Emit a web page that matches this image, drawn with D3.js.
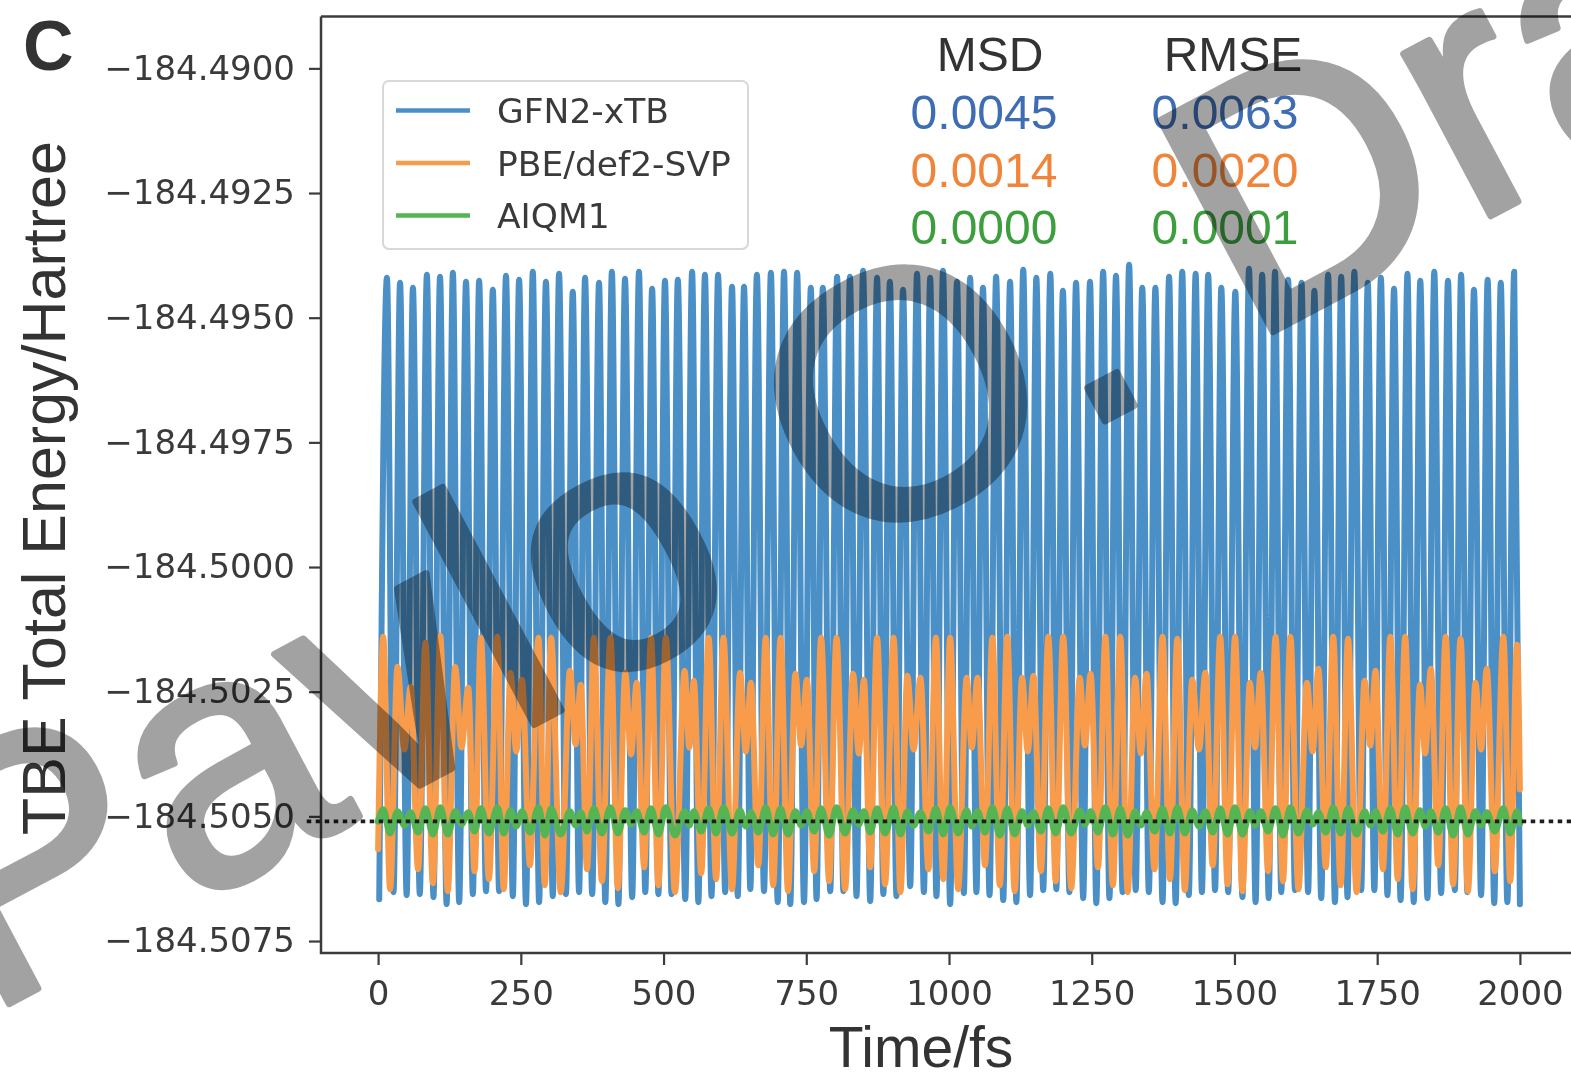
<!DOCTYPE html>
<html><head><meta charset="utf-8">
<script src="https://cdn.jsdelivr.net/npm/d3@7"></script>
<style>
html,body{margin:0;padding:0;background:#fff;}
svg{display:block;}
</style></head>
<body>
<svg id="chart" width="1571" height="1081"></svg>
<script>
// ---------------- DATA ----------------
const seriesNames = ["GFN2-xTB", "PBE/def2-SVP", "AIQM1"];
const msdValues  = ["0.0045", "0.0014", "0.0000"];
const rmseValues = ["0.0063", "0.0020", "0.0001"];
const xTicks = [0, 250, 500, 750, 1000, 1250, 1500, 1750, 2000];
const yTicks = [-184.4900, -184.4925, -184.4950, -184.4975, -184.5000, -184.5025, -184.5050, -184.5075];
const referenceEnergy = -184.5051;

// GFN2-xTB: local maxima / minima of the oscillation (time in fs, energy in Hartree)
const gfnPeakTime = [15.5,38.5,61,85.5,108.5,131,154,177,201,224,247,271,294,317,341,362.5,387,409.5,432.5,457,480,502.5,525,550,572.5,595.5,620,641,663.5,688,711,734,758,779,804,826.5,849.5,874,896.5,919.5,944,967,989.5,1014,1037,1059.5,1082.5,1107,1130,1153,1177.5,1199.5,1222.5,1247,1270,1292.5,1315.5,1338.5,1361.5,1385.5,1408.5,1432,1454,1477,1501.5,1525.5,1548.5,1571,1594,1617.5,1640,1664,1687,1710,1733.5,1756.5,1779.5,1803,1825.5,1850,1874,1897,1919.5,1943.5,1966.5,1990];
const gfnPeakEnergy = [-184.49420,-184.49430,-184.49440,-184.49414,-184.49418,-184.49410,-184.49428,-184.49426,-184.49444,-184.49416,
-184.49424,-184.49408,-184.49428,-184.49412,-184.49448,-184.49420,-184.49430,-184.49408,-184.49422,-184.49408,
-184.49442,-184.49426,-184.49424,-184.49408,-184.49414,-184.49414,-184.49438,-184.49438,-184.49414,-184.49410,
-184.49408,-184.49410,-184.49440,-184.49440,-184.49418,-184.49418,-184.49406,-184.49420,-184.49428,-184.49444,
-184.49412,-184.49420,-184.49406,-184.49428,-184.49420,-184.49440,-184.49418,-184.49428,-184.49404,-184.49420,
-184.49412,-184.49446,-184.49430,-184.49428,-184.49408,-184.49416,-184.49394,-184.49440,-184.49440,-184.49418,
-184.49408,-184.49412,-184.49414,-184.49440,-184.49448,-184.49402,-184.49414,-184.49408,-184.49424,-184.49430,
-184.49446,-184.49414,-184.49418,-184.49408,-184.49430,-184.49420,-184.49442,-184.49412,-184.49426,-184.49408,
-184.49426,-184.49414,-184.49444,-184.49424,-184.49430,-184.49408];
const gfnTroughTime = [2,27,50,73,97,120,142,166,189,212,236,259,282,306,329,352,375,398,421,445,468,491,514,538,561,584,608,630,652,676,700,722,746,768,792,815,838,862,885,908,932,956,978,1002,1026,1048,1071,1095,1118,1142,1165,1188,1211,1235,1258,1281,1304,1327,1350,1374,1397,1420,1443,1466,1489,1514,1537,1560,1582,1606,1629,1652,1676,1698,1722,1745,1768,1791,1814,1838,1862,1886,1908,1932,1955,1978,2000];
const gfnTroughEnergy = [-184.50666,-184.50652,-184.50658,-184.50656,-184.50662,-184.50676,-184.50672,-184.50656,-184.50650,-184.50650,
-184.50660,-184.50676,-184.50672,-184.50660,-184.50656,-184.50652,-184.50656,-184.50672,-184.50676,-184.50662,
-184.50652,-184.50656,-184.50656,-184.50666,-184.50672,-184.50660,-184.50652,-184.50660,-184.50646,-184.50650,
-184.50672,-184.50676,-184.50672,-184.50666,-184.50650,-184.50650,-184.50660,-184.50670,-184.50656,-184.50660,
-184.50640,-184.50652,-184.50660,-184.50676,-184.50654,-184.50652,-184.50658,-184.50668,-184.50672,-184.50658,
-184.50648,-184.50646,-184.50652,-184.50664,-184.50674,-184.50664,-184.50652,-184.50648,-184.50652,-184.50672,
-184.50674,-184.50658,-184.50652,-184.50648,-184.50652,-184.50662,-184.50672,-184.50664,-184.50652,-184.50648,
-184.50652,-184.50664,-184.50672,-184.50662,-184.50648,-184.50648,-184.50658,-184.50668,-184.50672,-184.50664,
-184.50654,-184.50648,-184.50652,-184.50658,-184.50674,-184.50672,-184.50676];

// PBE/def2-SVP
const pbePeakTime = [9,34,57,83,109,135,158,180,209,232,252,281,303,336,355,378,407,433,453,478,504,537,553,579,605,634,653,679,705,731,751,776,803,832,851,874,903,927,950,977,1002,1031,1050,1076,1102,1128,1148,1174,1200,1229,1248,1274,1300,1326,1346,1374,1400,1426,1449,1475,1501,1527,1546,1572,1598,1627,1647,1673,1699,1728,1747,1773,1799,1825,1844,1870,1896,1922,1942,1971,1995];
const pbePeakEnergy = [-184.50140,-184.50200,-184.50240,-184.50152,-184.50138,-184.50200,-184.50242,-184.50142,-184.50140,-184.50212,
-184.50226,-184.50142,-184.50142,-184.50208,-184.50236,-184.50142,-184.50142,-184.50212,-184.50232,-184.50142,
-184.50142,-184.50208,-184.50228,-184.50142,-184.50142,-184.50212,-184.50232,-184.50142,-184.50142,-184.50214,
-184.50226,-184.50142,-184.50142,-184.50214,-184.50226,-184.50142,-184.50142,-184.50218,-184.50222,-184.50142,
-184.50142,-184.50222,-184.50222,-184.50142,-184.50140,-184.50222,-184.50218,-184.50140,-184.50140,-184.50222,
-184.50214,-184.50140,-184.50140,-184.50222,-184.50214,-184.50140,-184.50144,-184.50226,-184.50212,-184.50140,
-184.50140,-184.50232,-184.50212,-184.50140,-184.50140,-184.50232,-184.50204,-184.50140,-184.50144,-184.50228,
-184.50208,-184.50140,-184.50140,-184.50236,-184.50204,-184.50140,-184.50144,-184.50232,-184.50204,-184.50140,
-184.50156];
const pbeTroughTime = [0,21,46,70,96,122,146,169,194,220,242,266,292,320,346,366,392,420,443,466,491,520,545,566,592,620,644,666,692,718,741,764,790,818,842,862,888,915,938,964,990,1016,1040,1063,1089,1115,1138,1161,1187,1214,1238,1261,1287,1313,1336,1360,1387,1413,1438,1462,1488,1514,1536,1559,1585,1612,1637,1660,1686,1714,1738,1760,1786,1812,1834,1857,1883,1909,1932,1956,1983,2000];
const pbeTroughEnergy = [-184.50566,
-184.50646,-184.50366,-184.50606,-184.50634, -184.50650,-184.50362,-184.50610,-184.50626,
-184.50646,-184.50370,-184.50598,-184.50638, -184.50652,-184.50356,-184.50606,-184.50630,
-184.50644,-184.50376,-184.50602,-184.50638, -184.50652,-184.50362,-184.50614,-184.50626,
-184.50646,-184.50370,-184.50598,-184.50638, -184.50650,-184.50358,-184.50610,-184.50630,
-184.50646,-184.50374,-184.50602,-184.50636, -184.50652,-184.50366,-184.50606,-184.50626,
-184.50646,-184.50362,-184.50598,-184.50638, -184.50650,-184.50370,-184.50610,-184.50630,
-184.50644,-184.50358,-184.50602,-184.50638, -184.50652,-184.50374,-184.50606,-184.50626,
-184.50648,-184.50366,-184.50598,-184.50636, -184.50650,-184.50362,-184.50610,-184.50630,
-184.50646,-184.50370,-184.50602,-184.50638, -184.50652,-184.50358,-184.50606,-184.50626,
-184.50646,-184.50374,-184.50598,-184.50636, -184.50650,-184.50366,-184.50610,-184.50630,
-184.50446];

// AIQM1 (sampled at the same turning points as PBE)
const aiqmPeakEnergy = [-184.50486,-184.50490,-184.50492,-184.50484,-184.50482,-184.50490,-184.50492,-184.50484,-184.50482,-184.50488,
-184.50490,-184.50482,-184.50484,-184.50490,-184.50492,-184.50484,-184.50482,-184.50488,-184.50490,-184.50484,
-184.50482,-184.50490,-184.50490,-184.50484,-184.50482,-184.50488,-184.50492,-184.50482,-184.50484,-184.50490,
-184.50490,-184.50484,-184.50482,-184.50488,-184.50490,-184.50484,-184.50482,-184.50490,-184.50492,-184.50484,
-184.50482,-184.50488,-184.50490,-184.50482,-184.50484,-184.50490,-184.50492,-184.50484,-184.50482,-184.50488,
-184.50490,-184.50482,-184.50484,-184.50490,-184.50492,-184.50484,-184.50482,-184.50488,-184.50490,-184.50484,
-184.50482,-184.50490,-184.50490,-184.50484,-184.50482,-184.50488,-184.50492,-184.50482,-184.50484,-184.50490,
-184.50490,-184.50484,-184.50482,-184.50488,-184.50490,-184.50484,-184.50482,-184.50490,-184.50492,-184.50484,
-184.50490];
const aiqmTroughEnergy = [-184.50510,
-184.50534,-184.50518,-184.50532,-184.50536, -184.50536,-184.50516,-184.50530,-184.50534,
-184.50534,-184.50520,-184.50532,-184.50538, -184.50536,-184.50518,-184.50530,-184.50534,
-184.50534,-184.50516,-184.50532,-184.50536, -184.50538,-184.50518,-184.50530,-184.50534,
-184.50534,-184.50520,-184.50532,-184.50536, -184.50536,-184.50518,-184.50530,-184.50538,
-184.50534,-184.50516,-184.50532,-184.50534, -184.50536,-184.50518,-184.50530,-184.50536,
-184.50534,-184.50520,-184.50532,-184.50538, -184.50536,-184.50518,-184.50530,-184.50534,
-184.50534,-184.50516,-184.50532,-184.50536, -184.50538,-184.50518,-184.50530,-184.50534,
-184.50534,-184.50520,-184.50532,-184.50536, -184.50536,-184.50518,-184.50530,-184.50538,
-184.50534,-184.50516,-184.50532,-184.50534, -184.50536,-184.50518,-184.50530,-184.50536,
-184.50534,-184.50520,-184.50532,-184.50538, -184.50536,-184.50518,-184.50530,-184.50534,
-184.50514];

const colors = ["#4a90c6", "#f89c4c", "#55b555"];
const textColors = ["#3f6db3", "#f0843a", "#3d9e3d"];

// ---------------- CHART ----------------
const svg = d3.select("#chart");
const plot = {left: 321, right: 1577, top: 16.5, bottom: 953};
const x = d3.scaleLinear().domain([-100, 2100]).range([plot.left, plot.right]);
const y = d3.scaleLinear().domain([-184.50774, -184.48896]).range([plot.bottom, plot.top]);

const axisColor = "#3c3c3c";
const tickFont = "'DejaVu Sans', sans-serif";
const labelFont = "'Liberation Sans', Arial, sans-serif";

function merge(pT, pE, tT, tE) {
  const pts = [];
  pT.forEach((t, i) => pts.push([t, pE[i]]));
  tT.forEach((t, i) => pts.push([t, tE[i]]));
  return pts.sort((a, b) => a[0] - b[0]);
}
const series = [
  merge(gfnPeakTime, gfnPeakEnergy, gfnTroughTime, gfnTroughEnergy),
  merge(pbePeakTime, pbePeakEnergy, pbeTroughTime, pbeTroughEnergy),
  merge(pbePeakTime, aiqmPeakEnergy, pbeTroughTime, aiqmTroughEnergy)
];
const widths = [6, 6, 6.5];

const line = d3.line().x(d => x(d[0])).y(d => y(d[1])).curve(d3.curveMonotoneX);

const gData = svg.append("g");
series.forEach((s, i) => {
  gData.append("path").datum(s).attr("d", line)
    .attr("fill", "none").attr("stroke", colors[i])
    .attr("stroke-width", widths[i])
    .attr("stroke-linejoin", "round").attr("stroke-linecap", "round");
});

// reference (dotted) line
svg.append("line")
  .attr("x1", x(-125)).attr("x2", x(2100))
  .attr("y1", y(referenceEnergy)).attr("y2", y(referenceEnergy))
  .attr("stroke", "#1e1e1e").attr("stroke-width", 3.8)
  .attr("stroke-dasharray", "4.5,4.5");

// spines
const spine = svg.append("g").attr("stroke", axisColor).attr("stroke-width", 2.5).attr("fill", "none");
spine.append("path").attr("d", `M${plot.left},${plot.top}V${plot.bottom}H${plot.right}`);
spine.append("path").attr("d", `M${plot.left},${plot.top}H${plot.right}`);

// axes
const yAxis = d3.axisLeft(y).tickValues(yTicks).tickFormat(d3.format(".4f"))
  .tickSize(12).tickPadding(14).tickSizeOuter(0);
const gy = svg.append("g").attr("transform", `translate(${plot.left},0)`).call(yAxis);
const xAxis = d3.axisBottom(x).tickValues(xTicks).tickFormat(d3.format("d"))
  .tickSize(12).tickPadding(16).tickSizeOuter(0);
const gx = svg.append("g").attr("transform", `translate(0,${plot.bottom})`).call(xAxis);
[gx, gy].forEach(g => {
  g.select(".domain").remove();
  g.selectAll(".tick line").attr("stroke", axisColor).attr("stroke-width", 2.2);
  g.selectAll(".tick text").attr("fill", "#3a3a3a").style("font-family", tickFont).style("font-size", "34px");
});

// axis labels
svg.append("text").attr("x", 921).attr("y", 1067).attr("text-anchor", "middle")
  .style("font-family", labelFont).style("font-size", "57px").attr("fill", "#333")
  .text("Time/fs");
svg.append("text").attr("transform", "translate(65,488) rotate(-90)").attr("text-anchor", "middle")
  .style("font-family", labelFont).style("font-size", "61px").attr("fill", "#333")
  .text("TBE Total Energy/Hartree");

// panel label
svg.append("text").attr("x", 23).attr("y", 70)
  .style("font-family", labelFont).style("font-size", "70px").style("font-weight", "bold").attr("fill", "#333")
  .text("C");

// legend
const leg = svg.append("g");
leg.append("rect").attr("x", 383).attr("y", 81).attr("width", 365).attr("height", 168)
  .attr("rx", 6).attr("fill", "#fff").attr("fill-opacity", 0.85)
  .attr("stroke", "#d8d8d8").attr("stroke-width", 2);
seriesNames.forEach((n, i) => {
  const yy = 110.5 + i * 52.5;
  leg.append("line").attr("x1", 396).attr("x2", 470).attr("y1", yy).attr("y2", yy)
    .attr("stroke", colors[i]).attr("stroke-width", 4.5);
  leg.append("text").attr("x", 497).attr("y", yy + 12.5)
    .style("font-family", tickFont).style("font-size", "34.5px").attr("fill", "#3a3a3a").text(n);
});

// statistics table
const stat = svg.append("g").style("font-family", labelFont).style("font-size", "48px").attr("text-anchor", "middle");
stat.append("text").attr("x", 990).attr("y", 71).attr("fill", "#333").text("MSD");
stat.append("text").attr("x", 1233).attr("y", 71).attr("fill", "#333").text("RMSE");
msdValues.forEach((v, i) => {
  stat.append("text").attr("x", 984).attr("y", 129 + i * 57.5).attr("fill", textColors[i]).text(v);
  stat.append("text").attr("x", 1225).attr("y", 129 + i * 57.5).attr("fill", textColors[i]).text(rmseValues[i]);
});

// watermark
svg.append("text").attr("transform", "translate(-16,1017) rotate(-28)")
  .style("font-family", labelFont).style("font-size", "348px")
  .style("mix-blend-mode", "multiply").attr("fill", "#a2a2a2")
  .attr("stroke", "#a2a2a2").attr("stroke-width", 7).attr("stroke-linejoin", "round")
  .text("Pavlo O. Dral");
</script>
</body></html>
